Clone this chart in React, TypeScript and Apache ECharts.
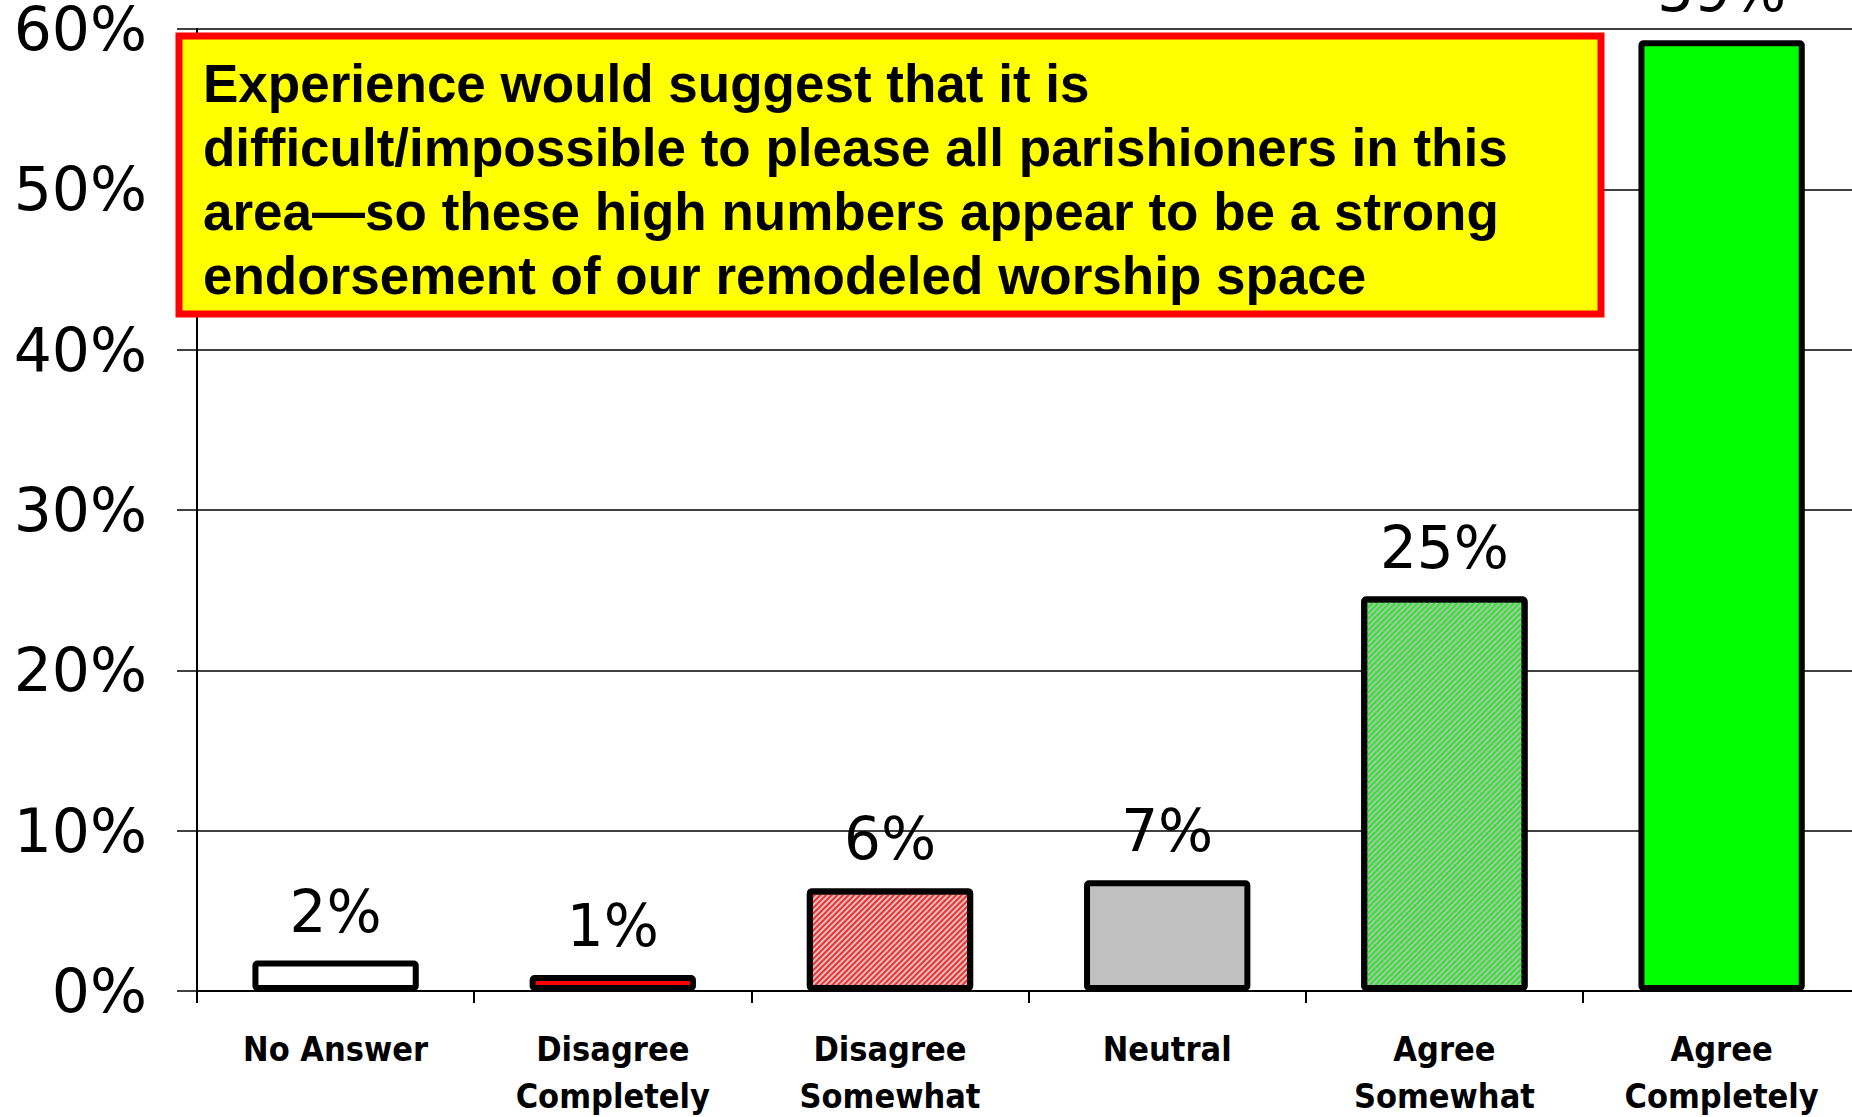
import React, { useEffect, useRef } from "react";
import * as echarts from "echarts";

const categories = [
  "No Answer",
  "Disagree\nCompletely",
  "Disagree\nSomewhat",
  "Neutral",
  "Agree\nSomewhat",
  "Agree\nCompletely",
];
const values = [1.9, 1.0, 6.4, 6.9, 24.6, 59.3];
const valueLabels = ["2%", "1%", "6%", "7%", "25%", "59%"];
const yTicks = [0, 10, 20, 30, 40, 50, 60];
const noteLines = [
  "Experience would suggest that it is",
  "difficult/impossible to please all parishioners in this",
  "area\u2014so these high numbers appear to be a strong",
  "endorsement of our remodeled worship space",
];

const hatch = (color: string) => ({
  symbol: "rect",
  symbolSize: 1,
  dashArrayX: [[1, 0]],
  dashArrayY: [2, 2],
  rotation: -Math.PI / 4,
  color,
});

const fills: any[] = [
  { color: "#ffffff" },
  { color: "#ff0000" },
  { color: "#c8c8c8", decal: hatch("#ff2a2a") },
  { color: "#c0c0c0" },
  { color: "#b8b8b8", decal: hatch("#22ee22") },
  { color: "#00ff00" },
];

export default function App() {
  const ref = useRef<HTMLDivElement>(null);
  useEffect(() => {
    if (!ref.current) return;
    const chart = echarts.init(ref.current, null, { renderer: "svg" });
    const catW = 277.2;
    chart.setOption({
      animation: false,
      backgroundColor: "#ffffff",
      grid: {
        left: 197,
        top: 29,
        width: catW * 6,
        height: 962,
        containLabel: false,
        outerBoundsMode: "none",
      },
      xAxis: {
        type: "category",
        data: categories,
        axisLine: { show: true, lineStyle: { color: "#000", width: 2 } },
        axisTick: { show: true, length: 12, lineStyle: { color: "#000", width: 2 } },
        axisLabel: {
          color: "#000",
          fontFamily: "DejaVu Sans Condensed, DejaVu Sans",
          fontWeight: "bold",
          fontSize: 34,
          lineHeight: 47,
          margin: 34,
          interval: 0,
        },
      },
      yAxis: {
        type: "value",
        min: yTicks[0],
        max: yTicks[yTicks.length - 1],
        interval: 10,
        axisLine: { show: true, lineStyle: { color: "#000", width: 2 } },
        axisTick: { show: true, length: 20, lineStyle: { color: "#000", width: 1.5 } },
        splitLine: { show: true, lineStyle: { color: "#000", width: 1.5 } },
        axisLabel: {
          color: "#000",
          fontFamily: "DejaVu Sans",
          fontSize: 60,
          margin: 50,
          formatter: (v: number) => v + "%",
        },
      },
      series: [
        {
          type: "bar",
          barWidth: "60%",
          data: values.map((v, i) => ({
            value: v,
            itemStyle: {
              ...fills[i],
              borderColor: "#000",
              borderWidth: 6,
              borderRadius: 2,
            },
          })),
          label: {
            show: true,
            position: "top",
            distance: 20,
            color: "#000",
            fontFamily: "DejaVu Sans",
            fontSize: 58,
            formatter: (p: any) => valueLabels[p.dataIndex],
          },
        },
      ],
      graphic: [
        {
          type: "rect",
          z: 100,
          shape: { x: 179, y: 36, width: 1422, height: 278 },
          style: { fill: "#ffff00", stroke: "#ff0000", lineWidth: 7 },
        },
        {
          type: "text",
          z: 101,
          x: 203,
          y: 51,
          style: {
            text: noteLines.join("\n"),
            fill: "#000",
            font: "bold 53px 'Liberation Sans', Arial, sans-serif",
            lineHeight: 64,
            verticalAlign: "top",
            align: "left",
          },
        },
      ],
    });
    return () => chart.dispose();
  }, []);
  return (
    <div
      ref={ref}
      style={{ position: "absolute", left: 0, top: 0, width: 1852, height: 1117 }}
    />
  );
}
